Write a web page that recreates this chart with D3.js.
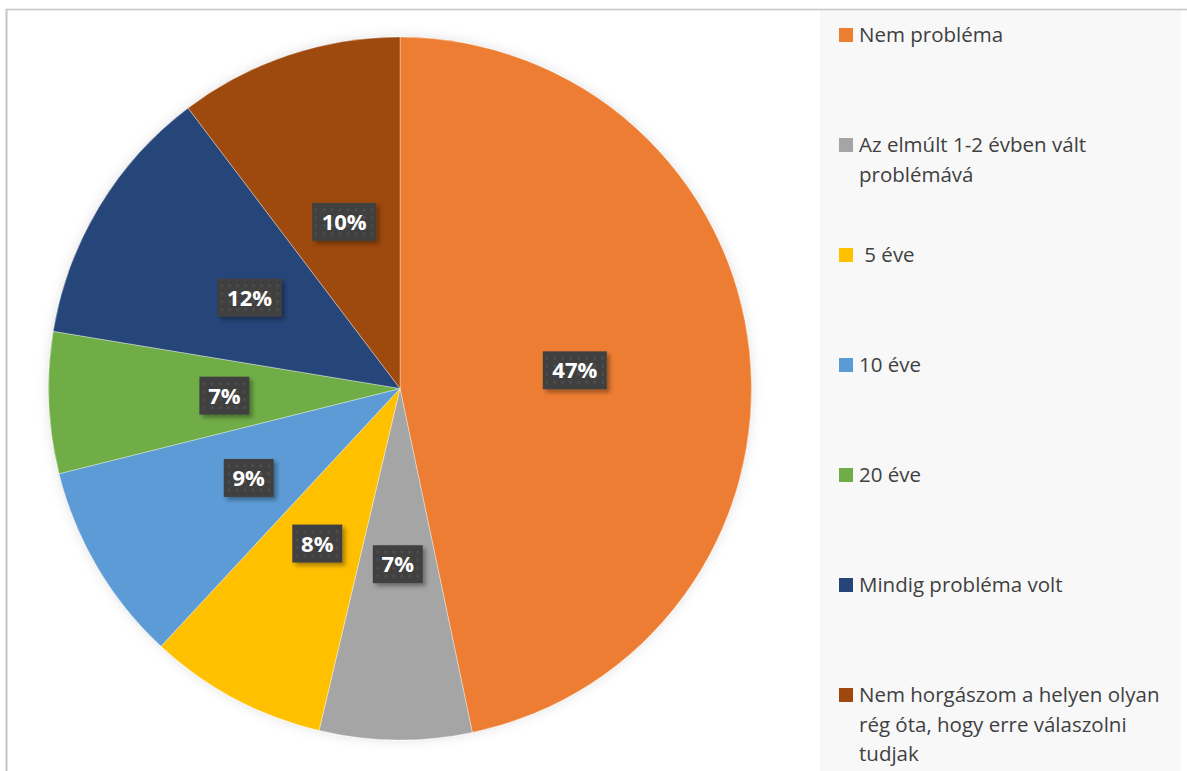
<!DOCTYPE html>
<html><head><meta charset="utf-8">
<script src="https://cdn.jsdelivr.net/npm/d3@7"></script>
<style>body{margin:0;background:#fff;}svg{display:block;}</style>
</head><body>
<svg id="c" width="1187" height="771"></svg>
<script>
const categories = ["Nem probléma", "Az elmúlt 1-2 évben vált problémává", " 5 éve", "10 éve", "20 éve", "Mindig probléma volt", "Nem horgászom a helyen olyan rég óta, hogy erre válaszolni tudjak"];
const legendLines = [["Nem probléma"], ["Az elmúlt 1-2 évben vált", "problémává"], [" 5 éve"], ["10 éve"], ["20 éve"], ["Mindig probléma volt"], ["Nem horgászom a helyen olyan", "rég óta, hogy erre válaszolni", "tudjak"]];
const values = [46.7, 7.0, 8.2, 9.2, 6.5, 12.1, 10.3];
const labels = ["47%", "7%", "8%", "9%", "7%", "12%", "10%"];
const colors = ["#ED7D31", "#A5A5A5", "#FFC000", "#5B9BD5", "#70AD47", "#264478", "#9E480E"];

const svg = d3.select("#c");
const defs = svg.append("defs");
const pat = defs.append("pattern").attr("id","dots").attr("width",8).attr("height",8).attr("patternUnits","userSpaceOnUse");
pat.append("rect").attr("width",8).attr("height",8).attr("fill","#404040");
pat.append("circle").attr("cx",4).attr("cy",4).attr("r",1.4).attr("fill","#505050");
const sh = defs.append("filter").attr("id","sh").attr("x","-20%").attr("y","-20%").attr("width","150%").attr("height","150%");
sh.append("feDropShadow").attr("dx",3).attr("dy",3).attr("stdDeviation",2).attr("flood-color","#000").attr("flood-opacity",0.35);
const psh = defs.append("filter").attr("id","psh").attr("x","-10%").attr("y","-10%").attr("width","120%").attr("height","120%");
psh.append("feGaussianBlur").attr("in","SourceAlpha").attr("stdDeviation",6).attr("result","b");
psh.append("feFlood").attr("flood-color","#000").attr("flood-opacity",0.12);
psh.append("feComposite").attr("in2","b").attr("operator","in").attr("result","s");
const m = psh.append("feMerge"); m.append("feMergeNode").attr("in","s"); m.append("feMergeNode").attr("in","SourceGraphic");

// frame
svg.append("rect").attr("x",820).attr("y",10).attr("width",361).attr("height",761).attr("fill","#f8f8f8");
svg.append("line").attr("x1",6).attr("x2",1187).attr("y1",9.5).attr("y2",9.5).attr("stroke","#c4c4c4").attr("stroke-width",1.5);
svg.append("line").attr("x1",6.5).attr("x2",6.5).attr("y1",9).attr("y2",771).attr("stroke","#c4c4c4").attr("stroke-width",2);

const cx = 400, cy = 388.5, R = 351.5;
const pie = d3.pie().sort(null).value(d => d)(values);
const arc = d3.arc().innerRadius(0).outerRadius(R);
const g = svg.append("g").attr("transform",`translate(${cx},${cy})`);
const slices = g.append("g").attr("filter","url(#psh)");
slices.selectAll("path").data(pie).join("path")
  .attr("d", arc).attr("fill",(d,i)=>colors[i])
  .attr("stroke","rgba(255,255,255,0.35)").attr("stroke-width",1);

const lab = g.selectAll("g.lab").data(pie).join("g").attr("class","lab")
  .attr("transform", d => `translate(${arc.centroid(d)})`);
lab.each(function(d,i){
  const s = d3.select(this);
  const w = labels[i].length === 3 ? 64 : 50;
  s.append("rect").attr("x",-w/2).attr("y",-19).attr("width",w).attr("height",38)
    .attr("fill","url(#dots)").attr("filter","url(#sh)");
  s.append("text").attr("text-anchor","middle").attr("y",8)
    .attr("font-family","'Open Sans', Lato, sans-serif").attr("font-weight",700).attr("font-size",22)
    .attr("fill","#fff").text(labels[i]);
});

const leg = svg.append("g");
legendLines.forEach((lines,i) => {
  const y0 = 35 + i*110;
  leg.append("rect").attr("x",839).attr("y",y0-7).attr("width",14).attr("height",14).attr("fill",colors[i]);
  const t = leg.append("text").attr("x",859).attr("y",y0+7)
    .attr("font-family","'Open Sans', sans-serif").attr("font-size",20.5).attr("fill","#404040")
    .attr("xml:space","preserve");
  lines.forEach((l,j)=> t.append("tspan").attr("x",859).attr("dy", j===0?0:29.5).text(l));
});
</script>
</body></html>
